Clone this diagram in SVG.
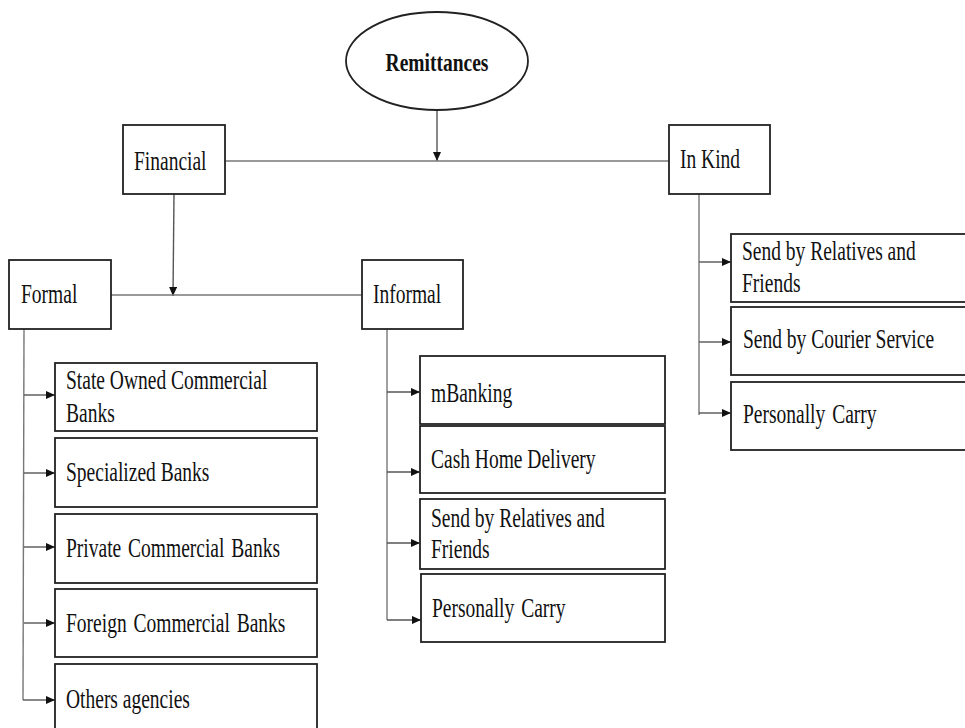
<svg xmlns="http://www.w3.org/2000/svg" width="965" height="728" viewBox="0 0 965 728">
<defs>
<marker id="ah" markerUnits="userSpaceOnUse" markerWidth="10" markerHeight="10" refX="9" refY="4" orient="auto">
<path d="M0,0 L9,4 L0,8 z" fill="#111"/>
</marker>
<style>
.box{fill:#fff;stroke:#222;stroke-width:1.8}
.t{font-family:"Liberation Serif","Times New Roman",serif;font-size:19.5px;fill:#111}
.b{font-weight:bold}
.c{fill:none;stroke:#777;stroke-width:1.4}
.a{fill:none;stroke:#555;stroke-width:1.4;marker-end:url(#ah)}
</style>
</defs>
<rect width="965" height="728" fill="#fff"/>
<g id="connectors">
<path class="a" d="M437,110 L437,161"/>
<path class="c" d="M225,161 L669,161"/>
<path class="a" d="M174,194 L173,296"/>
<path class="c" d="M111,295 L362,295"/>
<path class="c" d="M24,329 L23,700"/>
<path class="a" d="M24,395 L55,395"/>
<path class="a" d="M24,473 L55,473"/>
<path class="a" d="M24,547 L55,547"/>
<path class="a" d="M24,623 L55,623"/>
<path class="a" d="M23,700 L55,700"/>
<path class="c" d="M387,329 L387,620"/>
<path class="a" d="M387,392 L420,392"/>
<path class="a" d="M387,472 L420,472"/>
<path class="a" d="M387,543 L420,543"/>
<path class="a" d="M387,620 L421,620"/>
<path class="c" d="M699,194 L699,415"/>
<path class="a" d="M699,262 L731,262"/>
<path class="a" d="M699,342 L731,342"/>
<path class="a" d="M699,413 L731,413"/>
</g>
<g id="remittances">
<ellipse cx="437" cy="61" rx="91" ry="49" fill="#fff" stroke="#222" stroke-width="1.8"/>
<text class="t b" text-anchor="middle" transform="translate(437,71) scale(1,1.3)">Remittances</text>
</g>
<g id="financial">
<rect class="box" x="123" y="125" width="102" height="69"/>
<text class="t" transform="translate(134,170) scale(1,1.38)">Financial</text>
</g>
<g id="inkind">
<rect class="box" x="669" y="125" width="101" height="69"/>
<text class="t" transform="translate(680,168) scale(1,1.38)">In Kind</text>
</g>
<g id="formal">
<rect class="box" x="9" y="260" width="102" height="69"/>
<text class="t" transform="translate(21,303) scale(1,1.38)">Formal</text>
</g>
<g id="informal">
<rect class="box" x="362" y="260" width="101" height="69"/>
<text class="t" transform="translate(373,303) scale(1,1.38)">Informal</text>
</g>
<g id="state-owned">
<rect class="box" x="55" y="363" width="262" height="68"/>
<text class="t" transform="translate(66,389) scale(1,1.38)"><tspan x="0" y="0">State Owned Commercial</tspan><tspan x="0" y="24">Banks</tspan></text>
</g>
<g id="specialized">
<rect class="box" x="55" y="438" width="262" height="69"/>
<text class="t" transform="translate(66,481) scale(1,1.38)">Specialized Banks</text>
</g>
<g id="private">
<rect class="box" x="55" y="514" width="262" height="69"/>
<text class="t" transform="translate(66,557) scale(1,1.38)" word-spacing="2">Private Commercial Banks</text>
</g>
<g id="foreign">
<rect class="box" x="55" y="589" width="262" height="68"/>
<text class="t" transform="translate(66,632) scale(1,1.38)" word-spacing="2">Foreign Commercial Banks</text>
</g>
<g id="others">
<rect class="box" x="55" y="664" width="262" height="80"/>
<text class="t" transform="translate(66,708) scale(1,1.38)">Others agencies</text>
</g>
<g id="mbanking">
<rect class="box" x="420" y="356" width="245" height="68"/>
<text class="t" transform="translate(431,402) scale(1,1.38)">mBanking</text>
</g>
<g id="cash-home">
<rect class="box" x="420" y="426" width="245" height="67"/>
<text class="t" transform="translate(431,468) scale(1,1.38)">Cash Home Delivery</text>
</g>
<g id="informal-relatives">
<rect class="box" x="420" y="499" width="245" height="70"/>
<text class="t" transform="translate(431,527) scale(1,1.38)"><tspan x="0" y="0">Send by Relatives and</tspan><tspan x="0" y="22.5">Friends</tspan></text>
</g>
<g id="informal-carry">
<rect class="box" x="421" y="574" width="244" height="68"/>
<text class="t" transform="translate(432,617) scale(1,1.38)" word-spacing="2">Personally Carry</text>
</g>
<g id="kind-relatives">
<rect class="box" x="731" y="234" width="240" height="68"/>
<text class="t" transform="translate(742,260) scale(1,1.38)"><tspan x="0" y="0">Send by Relatives and</tspan><tspan x="0" y="23">Friends</tspan></text>
</g>
<g id="kind-courier">
<rect class="box" x="731" y="307" width="240" height="68"/>
<text class="t" transform="translate(743,348) scale(1,1.38)">Send by Courier Service</text>
</g>
<g id="kind-carry">
<rect class="box" x="731" y="382" width="240" height="68"/>
<text class="t" transform="translate(743,423) scale(1,1.38)" word-spacing="2">Personally Carry</text>
</g>
</svg>
